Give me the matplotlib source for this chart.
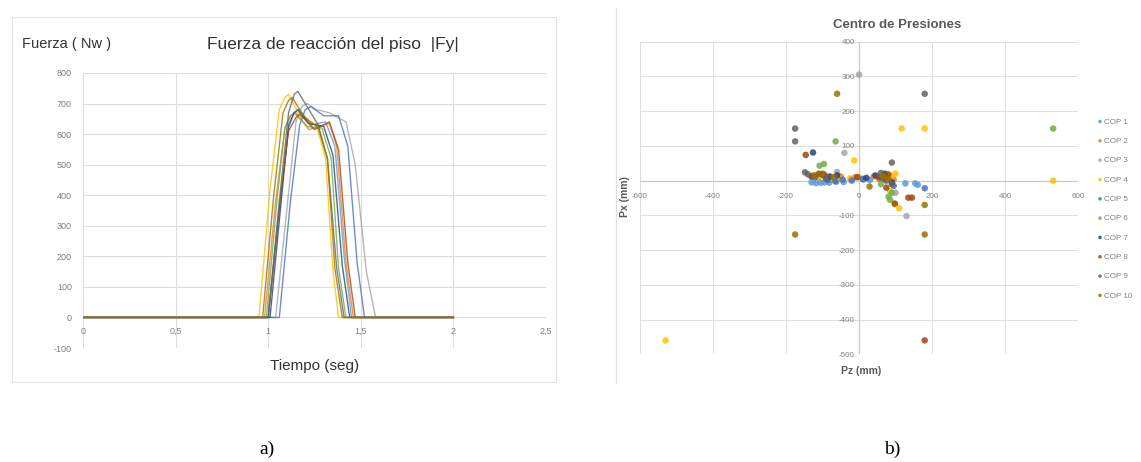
import matplotlib
matplotlib.use("Agg")
import matplotlib.pyplot as plt
from matplotlib.patches import Rectangle
from matplotlib.lines import Line2D

plt.rcParams['font.family'] = ['Liberation Sans', 'DejaVu Sans']
plt.rcParams['axes.unicode_minus'] = False

# ---------------- Data: left chart (force curves) ----------------
colors = ['#5B9BD5', '#ED7D31', '#A5A5A5', '#FFC000', '#4472C4',
          '#70AD47', '#264478', '#9E480E', '#636363', '#997300']

t1 = [0, 1.00, 1.06, 1.11, 1.14, 1.17, 1.23, 1.31, 1.36, 1.41, 1.45, 2.0]
f1 = [0, 0, 350, 620, 670, 680, 630, 640, 560, 200, 0, 0]
t2 = [0, 0.98, 1.04, 1.09, 1.12, 1.15, 1.22, 1.33, 1.37, 1.42, 1.46, 2.0]
f2 = [0, 0, 380, 620, 660, 670, 615, 635, 560, 180, 0, 0]
t3 = [0, 1.04, 1.10, 1.15, 1.18, 1.21, 1.26, 1.33, 1.42, 1.47, 1.53, 1.58, 2.0]
f3 = [0, 0, 350, 640, 690, 700, 680, 670, 640, 500, 150, 0, 0]
t4 = [0, 0.95, 1.01, 1.06, 1.09, 1.11, 1.17, 1.26, 1.31, 1.35, 1.38, 2.0]
f4 = [0, 0, 420, 680, 720, 730, 660, 630, 520, 150, 0, 0]
t5 = [0, 1.06, 1.12, 1.17, 1.20, 1.23, 1.30, 1.38, 1.43, 1.48, 1.52, 2.0]
f5 = [0, 0, 380, 630, 680, 690, 660, 660, 560, 180, 0, 0]
t6 = [0, 0.99, 1.05, 1.09, 1.12, 1.14, 1.21, 1.29, 1.34, 1.38, 1.42, 2.0]
f6 = [0, 0, 400, 620, 660, 670, 625, 620, 520, 160, 0, 0]
t7 = [0, 1.01, 1.07, 1.11, 1.14, 1.16, 1.22, 1.30, 1.35, 1.40, 1.44, 2.0]
f7 = [0, 0, 380, 630, 670, 680, 635, 625, 530, 170, 0, 0]
t8 = [0, 1.00, 1.06, 1.11, 1.15, 1.17, 1.25, 1.33, 1.38, 1.43, 1.47, 2.0]
f8 = [0, 0, 360, 610, 655, 665, 615, 640, 550, 180, 0, 0]
t9 = [0, 1.00, 1.06, 1.11, 1.14, 1.16, 1.20, 1.27, 1.32, 1.37, 1.41, 2.0]
f9 = [0, 0, 380, 670, 730, 740, 700, 630, 520, 160, 0, 0]
t10 = [0, 0.97, 1.03, 1.08, 1.11, 1.13, 1.19, 1.27, 1.32, 1.36, 1.40, 2.0]
f10 = [0, 0, 400, 670, 710, 720, 660, 620, 520, 160, 0, 0]

curves = [(t1, f1), (t2, f2), (t3, f3), (t4, f4), (t5, f5),
          (t6, f6), (t7, f7), (t8, f8), (t9, f9), (t10, f10)]

x_ticks_left = [0, 0.5, 1, 1.5, 2, 2.5]
x_ticklabels_left = ['0', '0,5', '1', '1,5', '2', '2,5']
y_ticks_left = [-100, 0, 100, 200, 300, 400, 500, 600, 700, 800]

# ---------------- Data: right chart (centre of pressure) ----------------
cop_labels = ['COP 1', 'COP 2', 'COP 3', 'COP 4', 'COP 5',
              'COP 6', 'COP 7', 'COP 8', 'COP 9', 'COP 10']

cop1_x = [-130, -118, -105, -95, -82, -62, -42, 12, 30, 127, 154, 161]
cop1_y = [-5, -7, -6, -5, -6, -3, -4, 3, 2, -8, -8, -12]
cop2_x = [-125, -110, -95, -70, -50, -10, 40, 55, 70, 85, 95]
cop2_y = [15, 10, 18, 8, 12, 10, 12, 5, 15, 8, 3]
cop3_x = [0, -40, -60, -100, 130, 100, -20, 80]
cop3_y = [305, 80, 25, 15, -102, -35, 5, 10]
cop4_x = [-530, 532, 117, 180, -13, 110, 98, -75, -50, -25, 90, 100, 85, -110, 0]
cop4_y = [-460, 0, 150, 150, 58, -80, -68, 8, 5, 6, 15, 20, -30, 12, 10]
cop5_x = [180, -85, -65, -45, -20, 10, 60, 95]
cop5_y = [-22, 2, -2, 3, 0, 5, 8, -15]
cop6_x = [532, -64, -108, -96, 81, 85, 90, -130, 60]
cop6_y = [150, 113, 43, 48, -46, -55, -35, 12, -10]
cop7_x = [-126, -100, -80, -60, 45, 70, 90, 20]
cop7_y = [81, 18, 12, 15, 15, 20, -5, 8]
cop8_x = [180, -146, 135, 145, 98, -130, -110, -95, 55, 70, 80, 75, -5]
cop8_y = [-460, 74, -49, -49, -66, 12, 20, 15, 10, 5, 18, -20, 10]
cop9_x = [180, -175, -175, -148, 90, -140, -120, -90, 60, 75, 90]
cop9_y = [250, 150, 113, 24, 52, 18, 10, 5, 22, 0, -10]
cop10_x = [-60, -175, 180, 180, 29, -120, -100, -70, 65, 80]
cop10_y = [250, -155, -155, -70, -17, 15, 20, 10, 12, 5]

cops = [(cop1_x, cop1_y), (cop2_x, cop2_y), (cop3_x, cop3_y), (cop4_x, cop4_y),
        (cop5_x, cop5_y), (cop6_x, cop6_y), (cop7_x, cop7_y), (cop8_x, cop8_y),
        (cop9_x, cop9_y), (cop10_x, cop10_y)]

x_ticks_right = [-600, -400, -200, 0, 200, 400, 600]
y_ticks_right = [-500, -400, -300, -200, -100, 0, 100, 200, 300, 400]

# ---------------- Figure ----------------
W, H = 1141, 462
fig = plt.figure(figsize=(W / 100, H / 100), dpi=100)


def fx(x):
    return x / W


def fy(y):
    return 1 - y / H


grid_c = '#DDDDDD'
tick_c = '#7F7F7F'

# frames
fig.add_artist(Rectangle((fx(12), fy(382)), fx(556) - fx(12), fy(17) - fy(382),
                         transform=fig.transFigure, fill=False, edgecolor='#E2E2E2', lw=0.8))
fig.add_artist(Line2D([fx(616), fx(616)], [fy(8), fy(383)], transform=fig.transFigure,
                      color='#E0E0E0', lw=0.9))

# ---- Left chart ----
ax1 = fig.add_axes([fx(83), fy(348), fx(546) - fx(83), fy(73) - fy(348)])
ax1.set_xlim(0, 2.5)
ax1.set_ylim(-100, 800)
ax1.set_xticks(x_ticks_left)
ax1.set_xticklabels(x_ticklabels_left)
ax1.set_yticks(y_ticks_left)
for xv in x_ticks_left:
    ax1.axvline(xv, color=grid_c, lw=0.8, zorder=0)
for yv in y_ticks_left:
    ax1.axhline(yv, color=grid_c, lw=0.8, zorder=0)
for (tt, ff), c in zip(curves, colors):
    ax1.plot(tt, ff, color=c, lw=1.0, alpha=0.8, zorder=2)
for s in ['top', 'right', 'left']:
    ax1.spines[s].set_visible(False)
ax1.spines['bottom'].set_position(('data', 0))
ax1.spines['bottom'].set_visible(False)
ax1.tick_params(axis='both', length=0, labelsize=6.5, labelcolor=tick_c)
ax1.tick_params(axis='x', pad=7)
ax1.tick_params(axis='y', pad=8)

fig.text(fx(22), fy(44), 'Fuerza ( Nw )', fontsize=10.5, color='#333333', ha='left', va='center')
fig.text(fx(333), fy(44), 'Fuerza de reacción del piso  |Fy|', fontsize=12.5,
         color='#333333', ha='center', va='center')
fig.text(fx(315), fy(366), 'Tiempo (seg)', fontsize=11, color='#333333', ha='center', va='center')

# ---- Right chart ----
ax2 = fig.add_axes([fx(640), fy(354.3), fx(1078) - fx(640), fy(41.7) - fy(354.3)])
ax2.set_xlim(-600, 600)
ax2.set_ylim(-500, 400)
ax2.set_xticks(x_ticks_right)
ax2.set_yticks(y_ticks_right)
ax2.set_yticklabels([str(v) if v != 0 else '' for v in y_ticks_right])
for xv in x_ticks_right:
    ax2.axvline(xv, color=grid_c, lw=0.7, zorder=0)
for yv in y_ticks_right:
    ax2.axhline(yv, color=grid_c, lw=0.7, zorder=0)
ax2.axvline(0, color='#C8C8C8', lw=0.9, zorder=1)
ax2.axhline(0, color='#C8C8C8', lw=0.9, zorder=1)
for (xx, yy), c, lab in zip(cops, colors, cop_labels):
    ax2.scatter(xx, yy, s=22, color=c, alpha=0.85, edgecolors='none', label=lab, zorder=3)
for s in ['top', 'right', 'left', 'bottom']:
    ax2.spines[s].set_visible(False)
ax2.spines['bottom'].set_position(('data', 0))
ax2.spines['left'].set_position(('data', 0))
ax2.tick_params(axis='both', length=0, labelsize=5.8, labelcolor=tick_c)
ax2.tick_params(axis='x', pad=9)
ax2.tick_params(axis='y', pad=3)

leg = ax2.legend(loc='upper left', bbox_to_anchor=(fx(1096), fy(118)),
                 bbox_transform=fig.transFigure, frameon=False, fontsize=5.8,
                 handletextpad=0.05, labelspacing=1.45, markerscale=0.55,
                 handlelength=1.0, borderaxespad=0, borderpad=0)
for t in leg.get_texts():
    t.set_color(tick_c)

fig.text(fx(897), fy(25), 'Centro de Presiones', fontsize=9.5, fontweight='bold',
         color='#595959', ha='center', va='center')
fig.text(fx(861), fy(371), 'Pz (mm)', fontsize=7.5, fontweight='bold',
         color='#595959', ha='center', va='center')
fig.text(fx(625), fy(197), 'Px (mm)', fontsize=7.5, fontweight='bold',
         color='#595959', ha='center', va='center', rotation=90)

# captions
fig.text(fx(267), fy(449), 'a)', fontsize=14, family='Liberation Serif', ha='center', va='center')
fig.text(fx(892), fy(449), 'b)', fontsize=14, family='Liberation Serif', ha='center', va='center')

fig.savefig('out.png', dpi=100)
